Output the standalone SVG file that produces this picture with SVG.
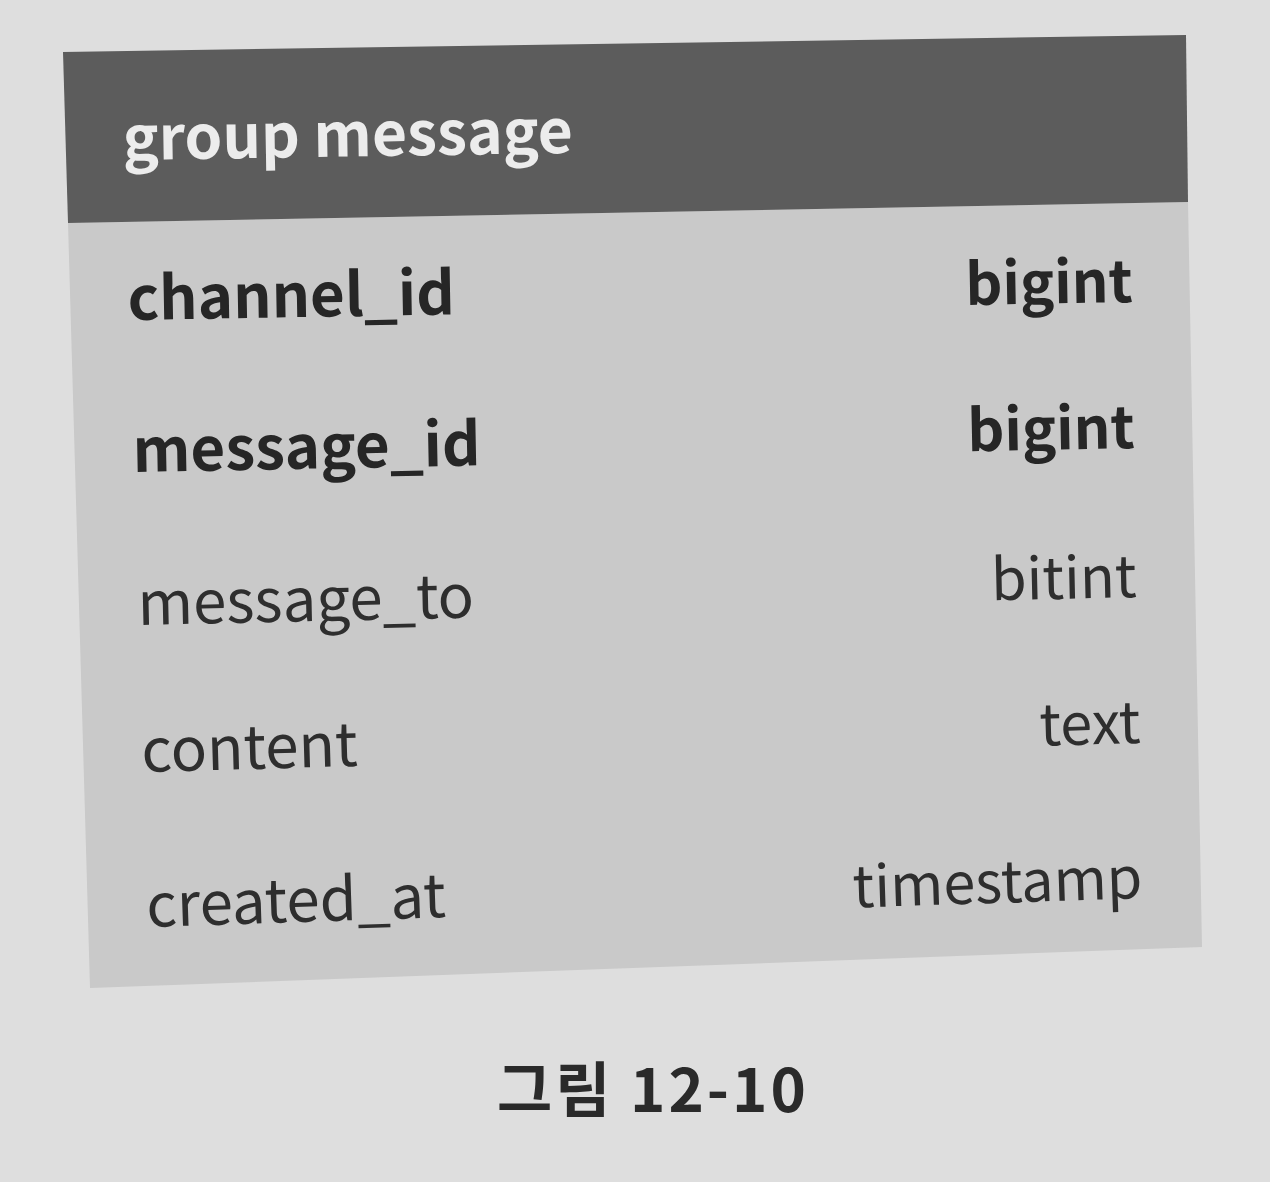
<svg xmlns="http://www.w3.org/2000/svg" width="1270" height="1182" viewBox="0 0 1270 1182">
<style>
text{font-family:"Noto Sans CJK KR","Noto Sans",sans-serif;}
.hdr{fill:#ececec;font-weight:700;font-size:60.5px;}
.k{fill:#262626;font-weight:700;font-size:60px;}
.f{fill:#2e2e2e;font-weight:400;font-size:60px;}
.kr{fill:#262626;font-weight:700;font-size:57.5px;}
.fr{fill:#2e2e2e;font-weight:400;font-size:57.5px;}
.cap{fill:#2a2a2a;font-weight:700;font-size:60px;letter-spacing:3px;}
</style>
<rect x="0" y="0" width="1270" height="1182" fill="#dedede"/>
<g id="table">
<polygon points="68,223 1188,202 1202,947 90,988" fill="#c9c9c9"/>
<polygon points="63,52 1186,35 1188,202 68,223" fill="#5c5c5c"/>
<text class="hdr" x="123" y="160" transform="rotate(-0.9 123 160)">group message</text>
</g>
<g id="rows">
<text class="k" x="128" y="320" transform="rotate(-1 128 320)">channel_id</text>
<text class="kr" x="1133" y="302" text-anchor="end" transform="rotate(-1 1133 302)">bigint</text>
<text class="k" x="133" y="472" transform="rotate(-1.1 133 472)">message_id</text>
<text class="kr" x="1135" y="448" text-anchor="end" transform="rotate(-1.1 1135 448)">bigint</text>
<text class="f" x="138" y="625" transform="rotate(-1.3 138 625)">message_to</text>
<text class="fr" x="1137" y="597" text-anchor="end" transform="rotate(-1.3 1137 597)">bitint</text>
<text class="f" x="142" y="772" transform="rotate(-1.6 142 772)">content</text>
<text class="fr" x="1141" y="743" text-anchor="end" transform="rotate(-1.6 1141 743)">text</text>
<text class="f" x="147" y="927" transform="rotate(-1.9 147 927)">created_at</text>
<text class="fr" x="1143" y="898" text-anchor="end" transform="rotate(-1.9 1143 898)">timestamp</text>
</g>
<g id="caption">
<text class="cap" x="497" y="1112">그림 12-10</text>
</g>
</svg>
